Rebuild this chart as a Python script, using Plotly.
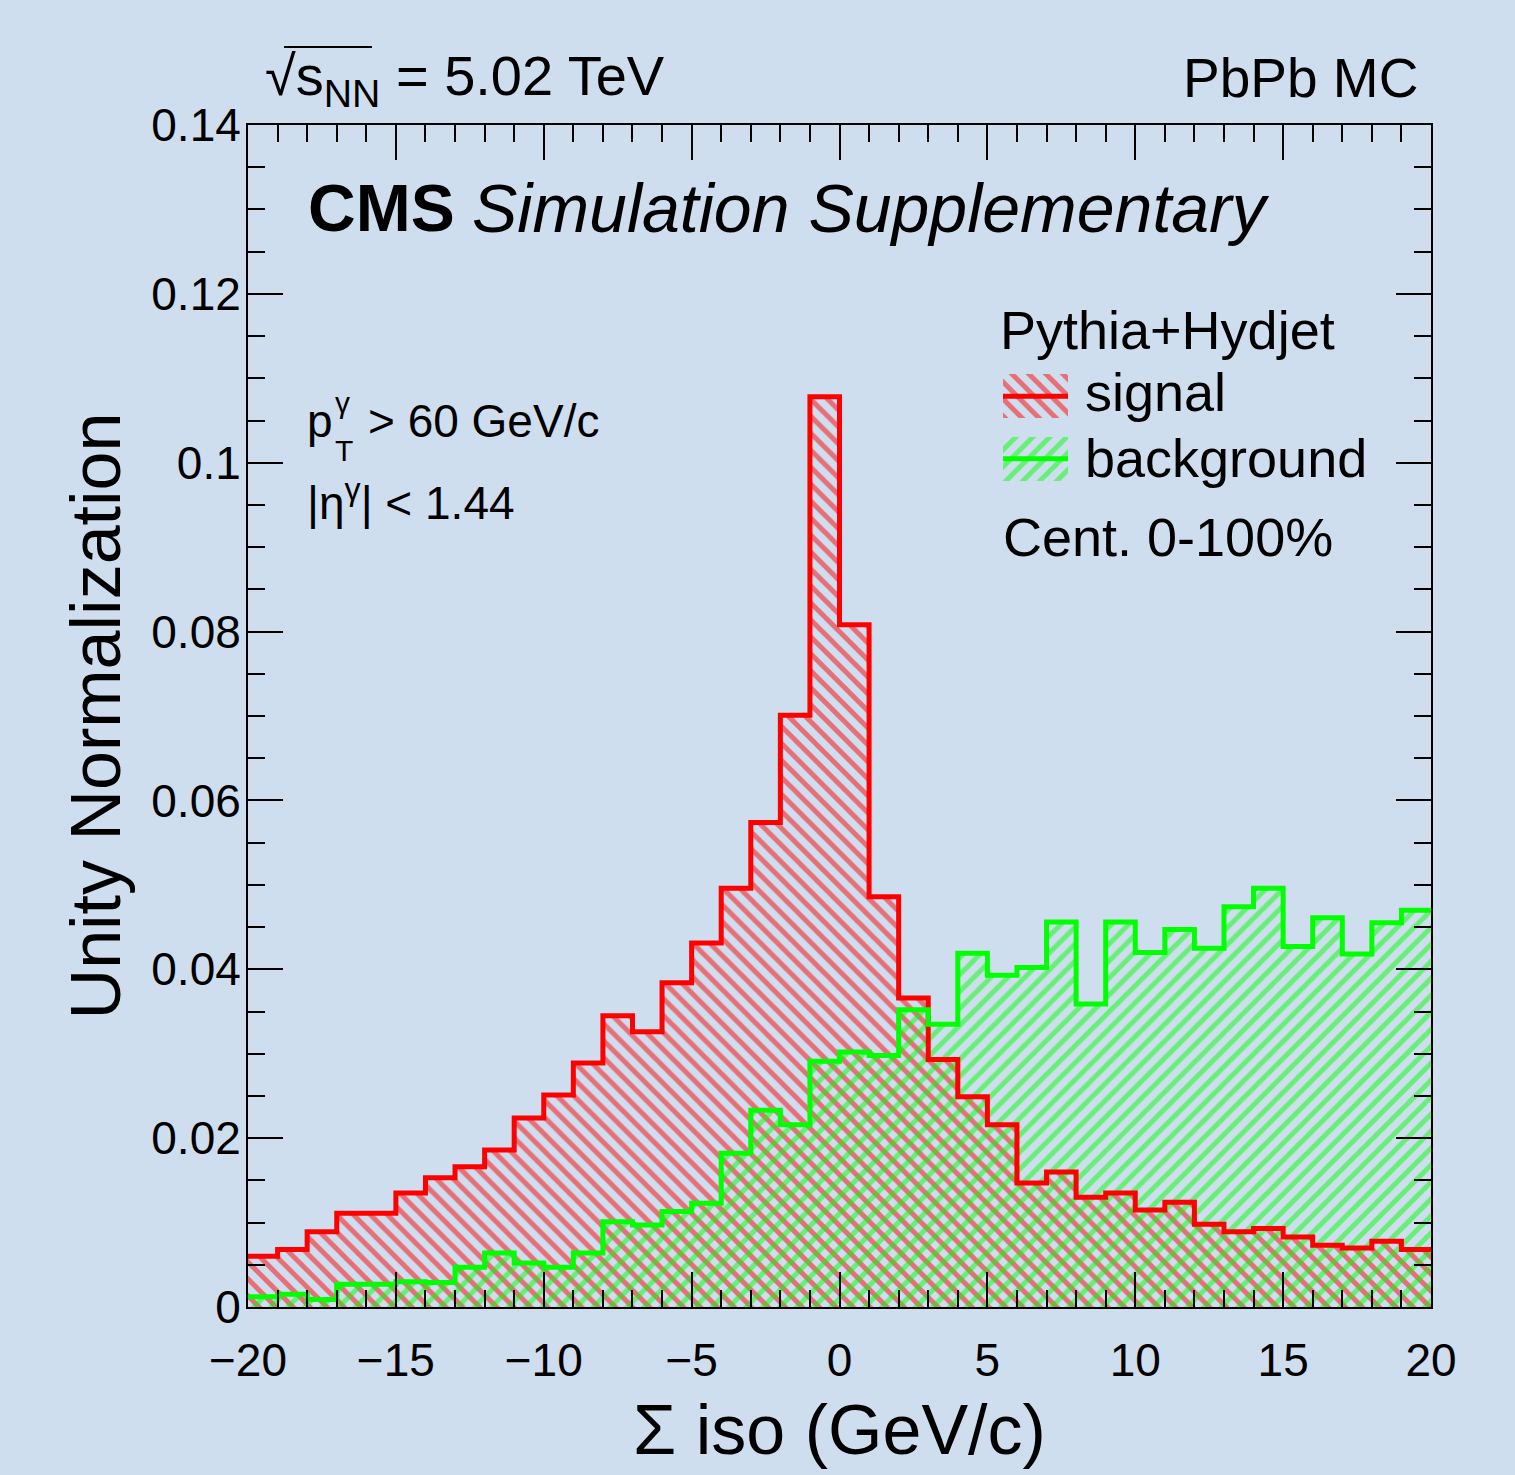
import plotly.graph_objects as go

# ---------------- data ----------------
BIN_EDGES = list(range(-20, 21))  # 40 bins of width 1 GeV/c
SIGNAL = [0.0060, 0.0068, 0.0089, 0.0111, 0.0111, 0.0135, 0.0153, 0.0166, 0.0186, 0.0224,
          0.0251, 0.0289, 0.0345, 0.0326, 0.0384, 0.0431, 0.0496, 0.0574, 0.0701, 0.1078,
          0.0808, 0.0486, 0.0366, 0.0293, 0.0249, 0.0216, 0.0147, 0.0160, 0.0130, 0.0135,
          0.0115, 0.0124, 0.0098, 0.0089, 0.0093, 0.0083, 0.0073, 0.0070, 0.0078, 0.0068]
BACKGROUND = [0.0012, 0.0015, 0.0009, 0.0027, 0.0027, 0.0030, 0.0029, 0.0047, 0.0064, 0.0052,
              0.0047, 0.0064, 0.0101, 0.0097, 0.0113, 0.0123, 0.0182, 0.0233, 0.0216, 0.0291,
              0.0302, 0.0298, 0.0352, 0.0335, 0.0419, 0.0393, 0.0402, 0.0456, 0.0359, 0.0456,
              0.0420, 0.0447, 0.0425, 0.0474, 0.0496, 0.0427, 0.0461, 0.0418, 0.0455, 0.0470]
LEGEND_ITEMS = ["signal", "background"]
X_TITLE = "Σ iso (GeV/c)"
Y_TITLE = "Unity Normalization"

# ---------------- style ----------------
BG = "#cfdeef"
RED = "#ff0000"
GREEN = "#00ff00"
FONT = "Liberation Sans, Arial, Helvetica, sans-serif"
W, H = 1515, 1475
L, R, T, B = 248, 1431, 125, 1307
HATCH_SIZE = 12
HATCH_SOLIDITY = 0.42
LINE_W = 5


def P(px, py):
    return (px - L) / (R - L), (B - py) / (B - T)


centers = [(BIN_EDGES[i] + BIN_EDGES[i + 1]) / 2 for i in range(len(BIN_EDGES) - 1)]
widths = [BIN_EDGES[i + 1] - BIN_EDGES[i] for i in range(len(BIN_EDGES) - 1)]

fig = go.Figure()


def add_hist(values, color, shape, name):
    fig.add_trace(go.Bar(
        x=centers, y=values, width=widths, name=name, showlegend=False,
        marker=dict(color=color, line=dict(width=0),
                    pattern=dict(shape=shape, fgcolor=color, bgcolor="rgba(0,0,0,0)",
                                 size=HATCH_SIZE, solidity=HATCH_SOLIDITY)),
        hoverinfo="skip"))


def add_outline(values, color, name):
    fig.add_trace(go.Scatter(
        x=BIN_EDGES, y=list(values) + [values[-1]], mode="lines", name=name,
        line=dict(color=color, width=LINE_W, shape="hv"), showlegend=False, hoverinfo="skip"))


add_hist(SIGNAL, RED, "\\", "signal")
add_hist(BACKGROUND, GREEN, "/", "background")
add_outline(SIGNAL, RED, "signal")
add_outline(BACKGROUND, GREEN, "background")

# legend glyphs on a hidden helper axis
leg_colors = {"signal": RED, "background": GREEN}
leg_shapes = {"signal": "\\", "background": "/"}
for item in LEGEND_ITEMS:
    fig.add_trace(go.Bar(
        x=[1], y=[item], orientation="h", xaxis="x2", yaxis="y2", showlegend=False,
        width=0.7,
        marker=dict(color=leg_colors[item], line=dict(width=0),
                    pattern=dict(shape=leg_shapes[item], fgcolor=leg_colors[item],
                                 bgcolor="rgba(0,0,0,0)", size=HATCH_SIZE,
                                 solidity=HATCH_SOLIDITY)),
        hoverinfo="skip"))
    fig.add_trace(go.Scatter(
        x=[0, 1], y=[item, item], xaxis="x2", yaxis="y2", mode="lines", showlegend=False,
        line=dict(color=leg_colors[item], width=LINE_W), hoverinfo="skip"))

x0, _ = P(1003, 0)
x1, _ = P(1068, 0)
_, y0 = P(0, 490)
_, y1 = P(0, 365)

axis_common = dict(showline=True, linecolor="black", linewidth=2, mirror="ticks",
                   ticks="inside", tickcolor="black", tickwidth=2, ticklen=35,
                   showgrid=False, zeroline=False,
                   tickfont=dict(family=FONT, size=46, color="black"))

fig.update_layout(
    width=W, height=H, autosize=False,
    margin=dict(l=L, r=W - R, t=T, b=H - B, pad=0),
    paper_bgcolor=BG, plot_bgcolor=BG,
    barmode="overlay", bargap=0,
    font=dict(family=FONT, color="black"),
    xaxis=dict(range=[-20, 20], tick0=-20, dtick=5, **axis_common,
               minor=dict(dtick=1, ticks="inside", ticklen=17, tickcolor="black", tickwidth=2),
               ticklabelstandoff=12,
               title=dict(text=X_TITLE, font=dict(family=FONT, size=70), standoff=20)),
    yaxis=dict(range=[0, 0.14], tick0=0, dtick=0.02, **axis_common,
               minor=dict(dtick=0.005, ticks="inside", ticklen=17, tickcolor="black", tickwidth=2),
               ticklabelstandoff=-4,
               title=dict(text=Y_TITLE, font=dict(family=FONT, size=70), standoff=8)),
    xaxis2=dict(domain=[x0, x1], range=[0, 1], visible=False, fixedrange=True),
    yaxis2=dict(domain=[y0, y1], visible=False, type="category",
                categoryorder="array", categoryarray=LEGEND_ITEMS[::-1], anchor="x2"),
)

ann = []


def A(text, px, py, size, xanchor="left"):
    x, y = P(px, py)
    ann.append(dict(text=text, x=x, y=y, xref="paper", yref="paper", xanchor=xanchor,
                    yanchor="middle", showarrow=False,
                    font=dict(family=FONT, size=size, color="black")))


A("√s<sub>NN</sub> = 5.02 TeV", 263, 80, 56)
A("PbPb MC", 1420, 78, 55, "right")
A("<b>CMS</b>", 306, 208, 66)
A("<i>Simulation Supplementary</i>", 470, 208, 68)
A("p", 305, 421, 46)
A("γ", 333, 402, 30)
A("T", 333, 450, 30)
A("> 60 GeV/c", 366, 421, 46)
A("|η<sup>γ</sup>| < 1.44", 305, 500, 46)
A("Pythia+Hydjet", 998, 330, 54)
A("signal", 1083, 392, 54)
A("background", 1083, 458, 54)
A("Cent. 0-100%", 1001, 537, 54)
fig.update_layout(annotations=ann)

# overline of the square root
sx0, sy = P(284, 47)
sx1, _ = P(372, 47)
fig.add_shape(type="line", xref="paper", yref="paper", x0=sx0, x1=sx1, y0=sy, y1=sy,
              line=dict(color="black", width=2))

fig.write_html("out.html", config={"displayModeBar": False, "staticPlot": True},
               post_script="document.body.style.margin='0px';document.body.style.overflow='hidden';")
